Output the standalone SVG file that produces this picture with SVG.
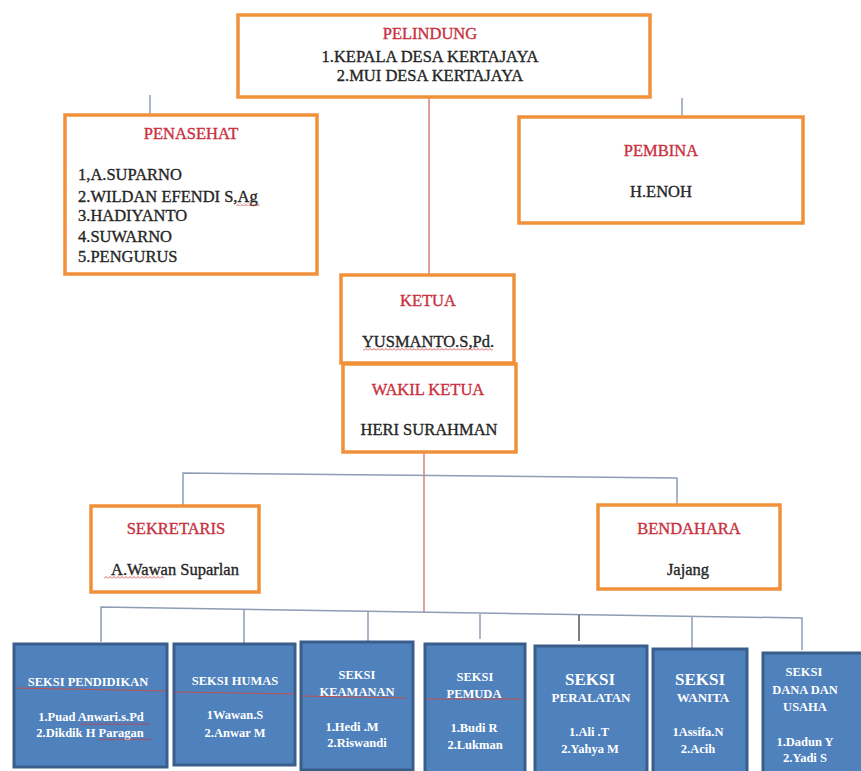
<svg xmlns="http://www.w3.org/2000/svg" width="861" height="771" viewBox="0 0 861 771">
<defs>
<pattern id="wave" x="0" y="0" width="4" height="3" patternUnits="userSpaceOnUse">
<polyline points="0,2.5 2,0.5 4,2.5" fill="none" stroke="#d03030" stroke-width="0.8"/>
</pattern>
<style>
.ob{fill:#fff;stroke:#F0913A;stroke-width:3.5}
.bb{fill:#4F81BD;stroke:#3A5E8C;stroke-width:3}
.t{font-family:"Liberation Serif","Times New Roman",serif;font-size:16.5px;fill:#262626;stroke:#262626;stroke-width:0.35}
.r{font-family:"Liberation Serif","Times New Roman",serif;font-size:16.5px;fill:#C9303E;stroke:#C9303E;stroke-width:0.35}
.w{font-family:"Liberation Serif","Times New Roman",serif;font-size:12.5px;font-weight:bold;fill:#fff}
.wl{font-family:"Liberation Serif","Times New Roman",serif;font-size:17px;font-weight:bold;fill:#fff}
.g{stroke:#8E9DB4;stroke-width:1.5;fill:none}
.rd{stroke:#C86060;stroke-width:1.2;fill:none}
.ul{stroke:#C0504D;stroke-width:1;fill:none}
</style>
</defs>
<rect width="861" height="771" fill="#fff"/>

<g id="connectors">
<line class="rd" x1="429" y1="97" x2="429" y2="274"/>
<line class="g" x1="150" y1="95" x2="150" y2="114"/>
<line class="g" x1="682" y1="98" x2="682" y2="116"/>
<line class="rd" x1="424" y1="452" x2="424" y2="613"/>
<polyline class="g" points="183,507 183,473 677,478 677,505"/>
<polyline class="g" points="101,642 101,607 802,618 802,650"/>
<line class="g" x1="244" y1="609" x2="244" y2="643"/>
<line class="g" x1="368" y1="612" x2="368" y2="641"/>
<line class="g" x1="480" y1="614" x2="480" y2="639"/>
<line class="g" x1="579" y1="615" x2="579" y2="641" style="stroke:#555"/>
<line class="g" x1="692" y1="616" x2="692" y2="648"/>
</g>

<g id="pelindung">
<rect class="ob" x="238" y="15" width="412" height="82"/>
<text class="r" x="430" y="39" text-anchor="middle">PELINDUNG</text>
<text class="t" x="430" y="62" text-anchor="middle">1.KEPALA DESA KERTAJAYA</text>
<text class="t" x="430" y="81" text-anchor="middle">2.MUI DESA KERTAJAYA</text>
</g>

<g id="penasehat">
<rect class="ob" x="65" y="115" width="252" height="159"/>
<text class="r" x="191" y="139" text-anchor="middle">PENASEHAT</text>
<text class="t" x="78" y="180">1,A.SUPARNO</text>
<text class="t" x="78" y="202">2.WILDAN EFENDI S,Ag</text>
<text class="t" x="78" y="221">3.HADIYANTO</text>
<text class="t" x="78" y="242">4.SUWARNO</text>
<text class="t" x="78" y="262">5.PENGURUS</text>
<rect x="236" y="203" width="24" height="3" fill="url(#wave)"/>
</g>

<g id="pembina">
<rect class="ob" x="519" y="117" width="284" height="106"/>
<text class="r" x="661" y="156" text-anchor="middle">PEMBINA</text>
<text class="t" x="661" y="197" text-anchor="middle">H.ENOH</text>
</g>

<g id="ketua">
<rect class="ob" x="341" y="275" width="173" height="88"/>
<text class="r" x="428" y="306" text-anchor="middle">KETUA</text>
<text class="t" x="428" y="347" text-anchor="middle">YUSMANTO.S,Pd.</text>
<rect x="363" y="348" width="130" height="3" fill="url(#wave)"/>
</g>

<g id="wakil">
<rect class="ob" x="343" y="364" width="173" height="88"/>
<text class="r" x="428" y="395" text-anchor="middle">WAKIL KETUA</text>
<text class="t" x="429" y="435" text-anchor="middle">HERI SURAHMAN</text>
</g>

<g id="sekretaris">
<rect class="ob" x="91" y="506" width="168" height="86"/>
<text class="r" x="176" y="534" text-anchor="middle">SEKRETARIS</text>
<text class="t" x="175" y="575" text-anchor="middle">A.Wawan Suparlan</text>
<rect x="104" y="576" width="60" height="3" fill="url(#wave)"/>
</g>

<g id="bendahara">
<rect class="ob" x="598" y="505" width="182" height="84"/>
<text class="r" x="689" y="534" text-anchor="middle">BENDAHARA</text>
<text class="t" x="688" y="575" text-anchor="middle">Jajang</text>
</g>

<g id="seksi-pendidikan">
<rect class="bb" x="14" y="644" width="153" height="123"/>
<text class="w" x="88" y="686" text-anchor="middle">SEKSI PENDIDIKAN</text>
<line class="ul" x1="15" y1="688" x2="166" y2="691"/>
<text class="w" x="91" y="721" text-anchor="middle">1.Puad Anwari.s.Pd</text>
<text class="w" x="90" y="737" text-anchor="middle">2.Dikdik H Paragan</text>
<rect x="80" y="722" width="70" height="3" fill="url(#wave)"/>
<rect x="99" y="738" width="53" height="3" fill="url(#wave)"/>
</g>

<g id="seksi-humas">
<rect class="bb" x="174" y="644" width="121" height="121"/>
<text class="w" x="235" y="685" text-anchor="middle">SEKSI HUMAS</text>
<line class="ul" x1="175" y1="692" x2="294" y2="694"/>
<text class="w" x="235" y="719" text-anchor="middle">1Wawan.S</text>
<text class="w" x="235" y="737" text-anchor="middle">2.Anwar M</text>
</g>

<g id="seksi-keamanan">
<rect class="bb" x="301" y="642" width="112" height="128"/>
<text class="w" x="357" y="679" text-anchor="middle">SEKSI</text>
<text class="w" x="357" y="696" text-anchor="middle">KEAMANAN</text>
<line class="ul" x1="302" y1="696" x2="406" y2="698"/>
<text class="w" x="352" y="731" text-anchor="middle">1.Hedi .M</text>
<text class="w" x="357" y="747" text-anchor="middle">2.Riswandi</text>
</g>

<g id="seksi-pemuda">
<rect class="bb" x="425" y="644" width="100" height="130"/>
<text class="w" x="475" y="681" text-anchor="middle">SEKSI</text>
<text class="w" x="474" y="698" text-anchor="middle">PEMUDA</text>
<line class="ul" x1="426" y1="699" x2="522" y2="699"/>
<text class="w" x="474" y="732" text-anchor="middle">1.Budi R</text>
<text class="w" x="475" y="749" text-anchor="middle">2.Lukman</text>
</g>

<g id="seksi-peralatan">
<rect class="bb" x="535" y="646" width="112" height="128"/>
<text class="wl" x="590" y="685" text-anchor="middle">SEKSI</text>
<text class="w" x="591" y="702" text-anchor="middle" style="font-size:13px">PERALATAN</text>
<text class="w" x="589" y="736" text-anchor="middle">1.Ali .T</text>
<text class="w" x="590" y="753" text-anchor="middle">2.Yahya M</text>
</g>

<g id="seksi-wanita">
<rect class="bb" x="653" y="649" width="94" height="125"/>
<text class="wl" x="700" y="685" text-anchor="middle">SEKSI</text>
<text class="w" x="703" y="702" text-anchor="middle" style="font-size:13px">WANITA</text>
<text class="w" x="698" y="736" text-anchor="middle">1Assifa.N</text>
<text class="w" x="698" y="753" text-anchor="middle">2.Acih</text>
</g>

<g id="seksi-dana">
<rect class="bb" x="763" y="653" width="100" height="120"/>
<text class="w" x="804" y="676" text-anchor="middle">SEKSI</text>
<text class="w" x="805" y="694" text-anchor="middle">DANA DAN</text>
<text class="w" x="805" y="711" text-anchor="middle">USAHA</text>
<text class="w" x="805" y="746" text-anchor="middle">1.Dadun Y</text>
<text class="w" x="805" y="762" text-anchor="middle">2.Yadi S</text>
</g>
</svg>
